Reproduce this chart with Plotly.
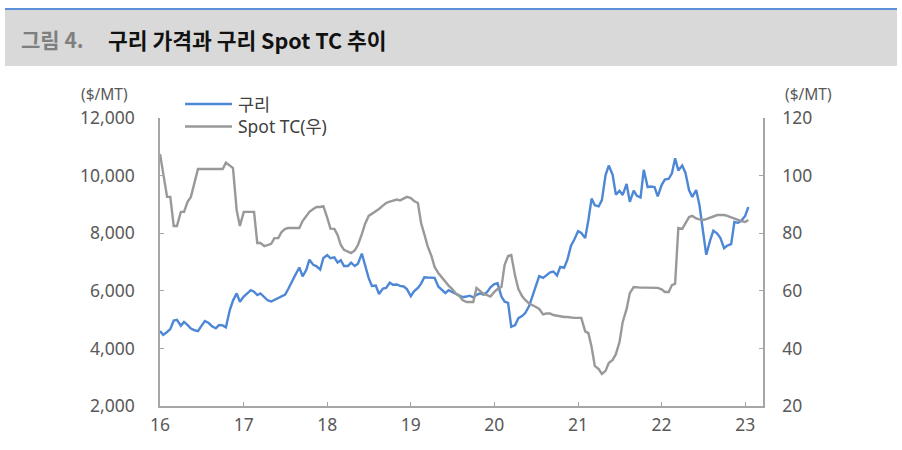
import plotly.graph_objects as go
import pandas as pd

# ---- data (semi-monthly readings, Jan-2016 .. mid-Jan-2023) ----
copper = [
    4600, 4470, 4570, 4670, 4970, 4990, 4790, 4920, 4810, 4690,
    4630, 4600, 4790, 4950, 4880, 4770, 4700, 4810, 4800, 4730,
    5330, 5660, 5910, 5620, 5800, 5900, 6020, 5970, 5850, 5910,
    5780, 5670, 5630, 5690, 5740, 5800, 5870, 6070, 6370, 6560,
    6810, 6500, 6720, 7080, 6900, 6850, 6740, 7140, 7240, 7130,
    7160, 6980, 7060, 6860, 6860, 6980, 6860, 6940, 7290, 6860,
    6440, 6170, 6180, 5890, 6080, 6100, 6280, 6210, 6220, 6170,
    6150, 6060, 5810, 5980, 6100, 6250, 6470, 6460, 6460, 6450,
    6150, 6030, 5920, 6020, 5960, 5900, 5840, 5780, 5800, 5830,
    5770, 5860, 5910, 5870, 5960, 6120, 6230, 6260, 5800, 5620,
    5580, 4750, 4810, 5050, 5120, 5230, 5470, 5780, 6170, 6510,
    6450, 6550, 6640, 6670, 6530, 6830, 6800, 7070, 7570, 7770,
    8070, 8010, 7830, 8460, 9200, 8970, 8930, 9150, 10020, 10350,
    10030, 9340, 9470, 9330, 9710, 9090, 9480, 9300, 9240, 10200,
    9600, 9620, 9600, 9280, 9670, 9860, 9890, 10080, 10600, 10180,
    10350, 10100, 9490, 9260, 9500, 8990, 8080, 7250, 7750, 8090,
    7990, 7830, 7480, 7570, 7620, 8390, 8360, 8430, 8600, 8910,
]

spot_tc = [
    107.5, 100.6, 92.6, 92.6, 82.5, 82.5, 87.4, 87.4, 91.0, 92.6,
    97.4, 102.3, 102.3, 102.3, 102.3, 102.3, 102.3, 102.3, 102.3, 104.5,
    103.5, 102.6, 88.0, 82.5, 87.4, 87.4, 87.4, 87.4, 76.6, 76.6,
    75.5, 75.9, 76.3, 78.3, 78.3, 80.4, 81.5, 81.8, 81.8, 81.8,
    81.8, 84.2, 86.0, 87.4, 88.4, 89.1, 89.1, 89.4, 85.3, 81.6,
    81.5, 79.4, 75.9, 74.2, 73.6, 73.1, 74.0, 75.9, 79.7, 83.2,
    86.0, 86.7, 87.5, 88.4, 89.6, 90.5, 91.0, 91.4, 91.7, 91.4,
    91.9, 92.6, 92.2, 91.2, 90.5, 83.5, 79.7, 75.6, 72.1, 68.3,
    66.2, 64.8, 63.2, 61.8, 60.6, 59.2, 58.2, 56.8, 56.1, 56.1,
    56.1, 61.0, 59.9, 58.9, 58.5, 58.0, 59.6, 60.6, 61.3, 69.0,
    72.1, 72.4, 65.1, 60.6, 58.2, 56.8, 55.6, 55.1, 54.4, 53.7,
    51.8, 52.1, 52.1, 51.6, 51.3, 51.1, 50.9, 50.9, 50.7, 50.6,
    50.6, 50.6, 45.9, 45.3, 40.5, 33.9, 32.8, 31.1, 32.2, 34.9,
    36.0, 38.0, 42.2, 49.2, 53.7, 59.2, 61.3, 61.1, 61.1, 61.1,
    61.1, 61.1, 61.1, 61.0, 60.5, 59.6, 59.6, 62.0, 62.5, 81.8,
    81.5, 83.5, 85.6, 86.0, 85.1, 84.8, 84.6, 84.9, 85.3, 85.8,
    86.3, 86.3, 86.3, 86.0, 85.5, 84.9, 84.6, 84.2, 83.9, 84.6,
]

dates = pd.date_range("2016-01-01", periods=len(copper), freq="SMS")

year_ticks = [f"{y}-01-01" for y in range(2016, 2024)]
year_labels = ["16", "17", "18", "19", "20", "21", "22", "23"]

series_names = ["구리", "Spot TC(우)"]
title_prefix = "그림 4."
title_text = "구리 가격과 구리 Spot TC 추이"
unit_text = "($/MT)"

BLUE = "#4d87d5"
GREY = "#999999"
AXIS = "#a6a6a6"
TXT = "#595959"
FONT = "Noto Sans, Noto Sans CJK KR, sans-serif"
FS = 17.5

fig = go.Figure()
fig.add_trace(go.Scatter(x=dates, y=copper, name=series_names[0], mode="lines",
                         line=dict(color=BLUE, width=2.4), yaxis="y"))
fig.add_trace(go.Scatter(x=dates, y=spot_tc, name=series_names[1], mode="lines",
                         line=dict(color=GREY, width=2.4), yaxis="y2"))

W, H = 902, 450
L, R, T, B = 160, 139, 118, 44
pw, ph = W - L - R, H - T - B


def px(x):
    return (x - L) / pw


def py(y):
    return (H - B - y) / ph


shapes = [
    # title band
    dict(type="rect", xref="paper", yref="paper", x0=px(5), x1=px(897),
         y0=py(66), y1=py(10), fillcolor="#d9d9d9", line=dict(width=0), layer="below"),
    dict(type="line", xref="paper", yref="paper", x0=px(5), x1=px(897),
         y0=py(9), y1=py(9), line=dict(color="#5b8fd6", width=2)),
    # legend samples
    dict(type="line", xref="paper", yref="paper", x0=px(185), x1=px(232),
         y0=py(104), y1=py(104), line=dict(color=BLUE, width=2.4)),
    dict(type="line", xref="paper", yref="paper", x0=px(185), x1=px(232),
         y0=py(126.5), y1=py(126.5), line=dict(color=GREY, width=2.4)),
]

annotations = [
    dict(xref="paper", yref="paper", x=px(19), y=py(39), xanchor="left", yanchor="middle",
         text=f"<b>{title_prefix}</b>", showarrow=False,
         font=dict(family="Noto Sans CJK KR", size=21, color="#7f7f7f")),
    dict(xref="paper", yref="paper", x=px(106), y=py(39), xanchor="left", yanchor="middle",
         text=f"<b>{title_text}</b>", showarrow=False,
         font=dict(family="Noto Sans CJK KR", size=21.5, color="#111111")),
    dict(xref="paper", yref="paper", x=px(104), y=py(93.5), xanchor="center", yanchor="middle",
         text=unit_text, showarrow=False, font=dict(family=FONT, size=15.5, color=TXT)),
    dict(xref="paper", yref="paper", x=px(808), y=py(93.5), xanchor="center", yanchor="middle",
         text=unit_text, showarrow=False, font=dict(family=FONT, size=15.5, color=TXT)),
    dict(xref="paper", yref="paper", x=px(236), y=py(104), xanchor="left", yanchor="middle",
         text=series_names[0], showarrow=False, font=dict(family=FONT, size=FS, color="#404040")),
    dict(xref="paper", yref="paper", x=px(236), y=py(126.5), xanchor="left", yanchor="middle",
         text=series_names[1], showarrow=False, font=dict(family=FONT, size=FS, color="#404040")),
]

axis_common = dict(
    ticks="inside", ticklen=4, tickcolor=AXIS, tickwidth=1,
    showline=True, linecolor=AXIS, linewidth=1.5,
    showgrid=False, zeroline=False,
    tickfont=dict(family=FONT, size=FS, color=TXT),
)

fig.update_layout(
    width=W, height=H,
    margin=dict(l=L, r=R, t=T, b=B, autoexpand=False),
    paper_bgcolor="white", plot_bgcolor="white",
    showlegend=False,
    font=dict(family=FONT, size=FS, color=TXT),
    shapes=shapes,
    annotations=annotations,
    xaxis=dict(
        type="date", range=["2016-01-01", "2023-03-20"],
        tickmode="array", tickvals=year_ticks, ticktext=year_labels,
        ticklabelstandoff=2, **axis_common,
    ),
    yaxis=dict(
        range=[2000, 12000], dtick=2000, tick0=2000, tickformat=",",
        ticklabelstandoff=20, **axis_common,
    ),
    yaxis2=dict(
        range=[20, 120], dtick=20, tick0=20, overlaying="y", side="right",
        ticklabelstandoff=14, **axis_common,
    ),
)

fig.write_html("out.html")
